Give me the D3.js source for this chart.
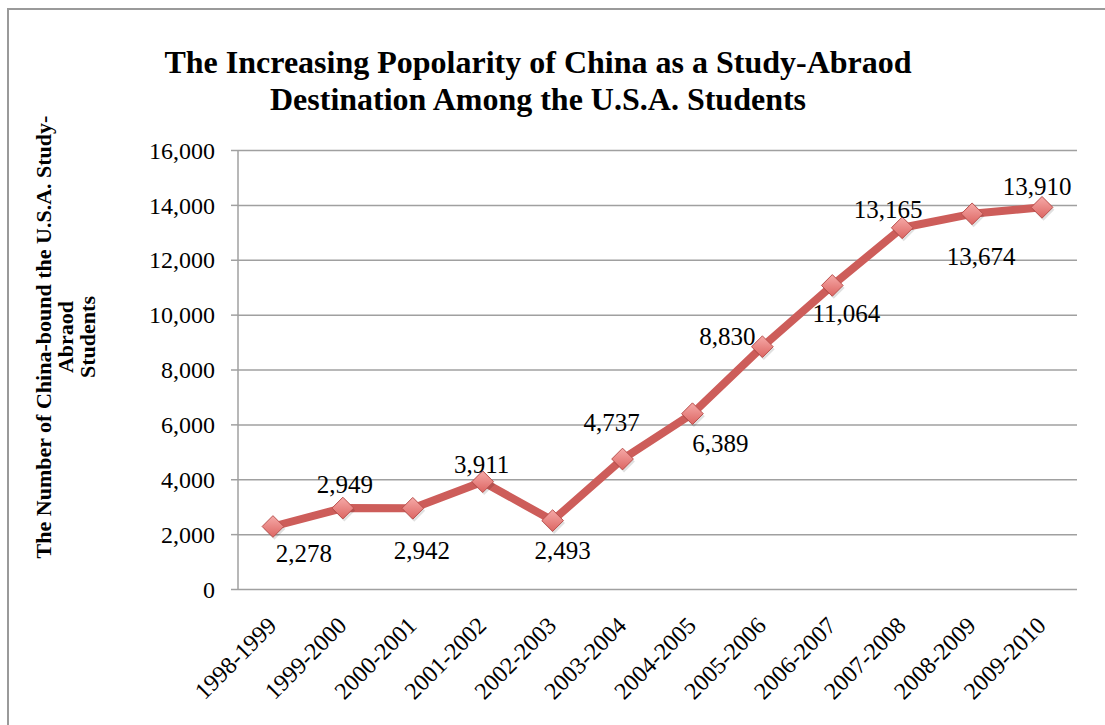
<!DOCTYPE html>
<html>
<head>
<meta charset="utf-8">
<script src="https://cdn.jsdelivr.net/npm/d3@7"></script>
<style>
  body { margin: 0; background: #fff; }
  svg text { font-family: "Liberation Serif", "DejaVu Serif", serif !important; fill: #000; }
</style>
</head>
<body>
<div id="chart"></div>
<script>
// dane
const years = ["1998-1999", "1999-2000", "2000-2001", "2001-2002", "2002-2003", "2003-2004",
  "2004-2005", "2005-2006", "2006-2007", "2007-2008", "2008-2009", "2009-2010"];
const students = [2278, 2949, 2942, 3911, 2493, 4737, 6389, 8830, 11064, 13165, 13674, 13910];
const yTicks = [0, 2000, 4000, 6000, 8000, 10000, 12000, 14000, 16000];

// przesuniecia etykiet danych [dx, dy] wzgledem punktu
const labelOffsets = [[31, 36], [2, -15], [9, 51], [-1, -9], [10, 38], [-11, -28],
  [28, 38], [-35, -2], [14, 37], [-14, -10], [9, 51], [-5, -12]];

const width = 1105;
const height = 725;
const margin = { top: 150, right: 28, bottom: 136, left: 238 };
const serif = '"Liberation Serif", "DejaVu Serif", serif';

const svg = d3.select("#chart")
  .append("svg")
  .attr("width", width)
  .attr("height", height);

// gradient dla markerow
const grad = svg.append("defs").append("linearGradient")
  .attr("id", "mk").attr("x1", 0).attr("y1", 0).attr("x2", 0).attr("y2", 1);
grad.append("stop").attr("offset", "0%").attr("stop-color", "#f6aaa8");
grad.append("stop").attr("offset", "100%").attr("stop-color", "#dc6562");

// ramka
svg.append("rect")
  .attr("x", 8).attr("y", 9)
  .attr("width", width).attr("height", height)
  .attr("fill", "none").attr("stroke", "#9a9a9a").attr("stroke-width", 2);

const x = d3.scaleBand()
  .domain(years)
  .range([margin.left, width - margin.right]);

const y = d3.scaleLinear()
  .domain([0, 16000])
  .range([height - margin.bottom, margin.top]);

const cx = d => x(d) + x.bandwidth() / 2;

// linie siatki + os y
const yAxis = svg.append("g")
  .attr("transform", `translate(${margin.left},0)`)
  .call(d3.axisLeft(y).tickValues(yTicks).tickFormat(d3.format(",")).tickSize(7)
    .tickPadding(16));
yAxis.attr("font-family", serif);
yAxis.select(".domain").remove();
yAxis.selectAll("line").attr("stroke", "#a0a0a0").attr("stroke-width", 1.5);
yAxis.selectAll("text").style("font-size", "24px").attr("dy", "0.34em");
yAxis.selectAll(".tick").append("line")
  .attr("x1", 0).attr("x2", width - margin.right - margin.left)
  .attr("stroke", "#a0a0a0").attr("stroke-width", 1.5);

svg.append("line")
  .attr("x1", margin.left).attr("x2", margin.left)
  .attr("y1", margin.top).attr("y2", height - margin.bottom)
  .attr("stroke", "#a0a0a0").attr("stroke-width", 1.5);

// os x z obroconymi etykietami
const xAxis = svg.append("g")
  .attr("transform", `translate(0,${height - margin.bottom})`)
  .call(d3.axisBottom(x).tickSize(0));
xAxis.attr("font-family", serif);
xAxis.select(".domain").remove();
xAxis.selectAll("text")
  .style("font-size", "24px")
  .attr("text-anchor", "end")
  .attr("dy", 0)
  .attr("transform", "translate(3,36) rotate(-45)");

// linia
const line = d3.line()
  .x((d, i) => cx(years[i]))
  .y(d => y(d));

svg.append("path")
  .datum(students)
  .attr("fill", "none")
  .attr("stroke", "#cd5d5a")
  .attr("stroke-width", 8)
  .attr("stroke-linejoin", "round")
  .attr("d", line);

// markery (romby)
const diamond = d3.symbol().type(d3.symbolDiamond2).size(300);
const marks = svg.selectAll(".mk")
  .data(students)
  .join("g")
  .attr("transform", (d, i) => `translate(${cx(years[i])},${y(d)})`);
marks.append("path")
  .attr("d", diamond)
  .attr("transform", "translate(1.5,2.5)")
  .attr("fill", "#000").attr("opacity", 0.12);
marks.append("path")
  .attr("d", diamond)
  .attr("fill", "url(#mk)")
  .attr("stroke", "#b9504d")
  .attr("stroke-width", 1);

// etykiety danych
svg.selectAll(".lbl")
  .data(students)
  .join("text")
  .attr("x", (d, i) => cx(years[i]) + labelOffsets[i][0])
  .attr("y", (d, i) => y(d) + labelOffsets[i][1])
  .attr("text-anchor", "middle")
  .style("font-size", "25px")
  .text(d => d3.format(",")(d));

// tytul
const title = svg.append("text")
  .attr("text-anchor", "middle")
  .style("font-size", "32px")
  .style("font-weight", "bold");
title.append("tspan").attr("x", 538).attr("y", 73)
  .text("The Increasing Popolarity of China as a Study-Abraod");
title.append("tspan").attr("x", 538).attr("y", 110)
  .text("Destination Among the U.S.A. Students");

// tytul osi y
const yTitle = svg.append("text")
  .attr("transform", "translate(0,337) rotate(-90)")
  .attr("text-anchor", "middle")
  .style("font-size", "22px")
  .style("font-weight", "bold");
["The Number of China-bound the U.S.A. Study-", "Abraod", "Students"].forEach((t, i) => {
  yTitle.append("tspan").attr("x", 0).attr("y", 51 + i * 22).text(t);
});
</script>
</body>
</html>
